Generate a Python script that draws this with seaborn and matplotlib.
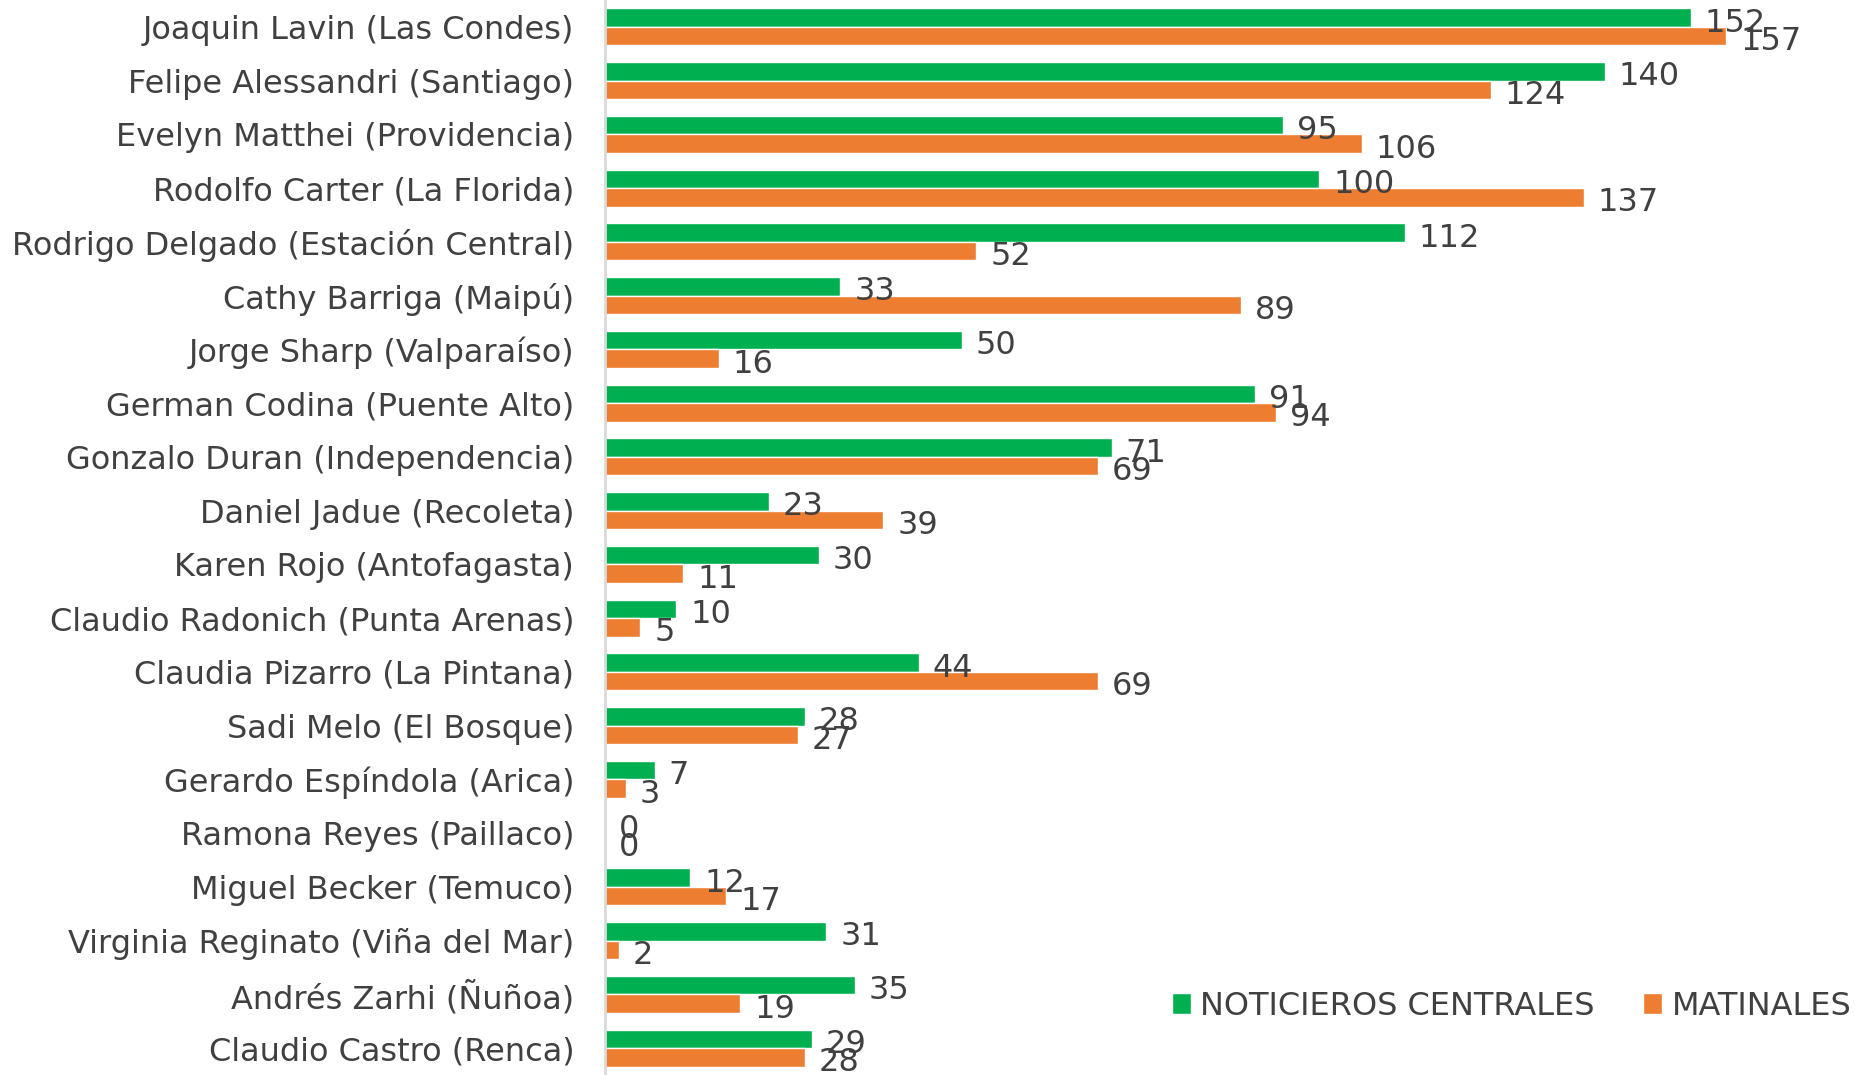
import numpy as np
import pandas as pd
import matplotlib.pyplot as plt
import seaborn as sns

alcaldes = [
    'Joaquin Lavin (Las Condes)', 'Felipe Alessandri (Santiago)',
    'Evelyn Matthei (Providencia)', 'Rodolfo Carter (La Florida)',
    'Rodrigo Delgado (Estación Central)', 'Cathy Barriga (Maipú)',
    'Jorge Sharp (Valparaíso)', 'German Codina (Puente Alto)',
    'Gonzalo Duran (Independencia)', 'Daniel Jadue (Recoleta)',
    'Karen Rojo (Antofagasta)', 'Claudio Radonich (Punta Arenas)',
    'Claudia Pizarro (La Pintana)', 'Sadi Melo (El Bosque)',
    'Gerardo Espíndola (Arica)', 'Ramona Reyes (Paillaco)',
    'Miguel Becker (Temuco)', 'Virginia Reginato (Viña del Mar)',
    'Andrés Zarhi (Ñuñoa)', 'Claudio Castro (Renca)',
]
noticieros = [152, 140, 95, 100, 112, 33, 50, 91, 71, 23, 30, 10, 44, 28, 7, 0, 12, 31, 35, 29]
matinales = [157, 124, 106, 137, 52, 89, 16, 94, 69, 39, 11, 5, 69, 27, 3, 0, 17, 2, 19, 28]
series = ['NOTICIEROS CENTRALES', 'MATINALES']

df = pd.DataFrame({
    'alcalde': alcaldes * 2,
    'valor': noticieros + matinales,
    'serie': [series[0]] * len(alcaldes) + [series[1]] * len(alcaldes),
})

sns.set_style('white')
plt.rcParams['font.family'] = ['DejaVu Sans']
texto = '#404040'

fig = plt.figure(figsize=(18.55, 10.75), dpi=100)
ax = fig.add_axes([0.326, 0.0, 0.674, 1.0])

sns.barplot(data=df, y='alcalde', x='valor', hue='serie', orient='h',
            palette=['#00B050', '#ED7D31'], width=0.69, ax=ax,
            saturation=1, errorbar=None)

# etiquetas de valor, un poco abajo del centro de cada barra
for cont in ax.containers:
    for bar in cont:
        w = bar.get_width()
        yc = bar.get_y() + bar.get_height() / 2
        ax.annotate(f'{int(w)}', (w, yc), xytext=(10, -4), textcoords='offset points',
                    ha='left', va='center', fontsize=23, color=texto)

ax.set_xlim(0, 175)
ax.set_ylim(len(alcaldes) - 0.5, -0.5)
ax.set_xlabel('')
ax.set_ylabel('')
ax.set_xticks([])
for s in ['top', 'right', 'bottom']:
    ax.spines[s].set_visible(False)
ax.spines['left'].set_color('#d9d9d9')
ax.spines['left'].set_linewidth(2)
ax.tick_params(axis='y', length=0, pad=22, labelsize=23, labelcolor=texto)

ax.legend(loc='center right', bbox_to_anchor=(0.997, 0.064), ncol=2, frameon=False,
          fontsize=23, labelcolor=texto, handlelength=0.6, handleheight=0.6,
          handletextpad=0.3, columnspacing=1.5, borderpad=0, borderaxespad=0)

plt.savefig('out.png', dpi=100)
plt.close()
